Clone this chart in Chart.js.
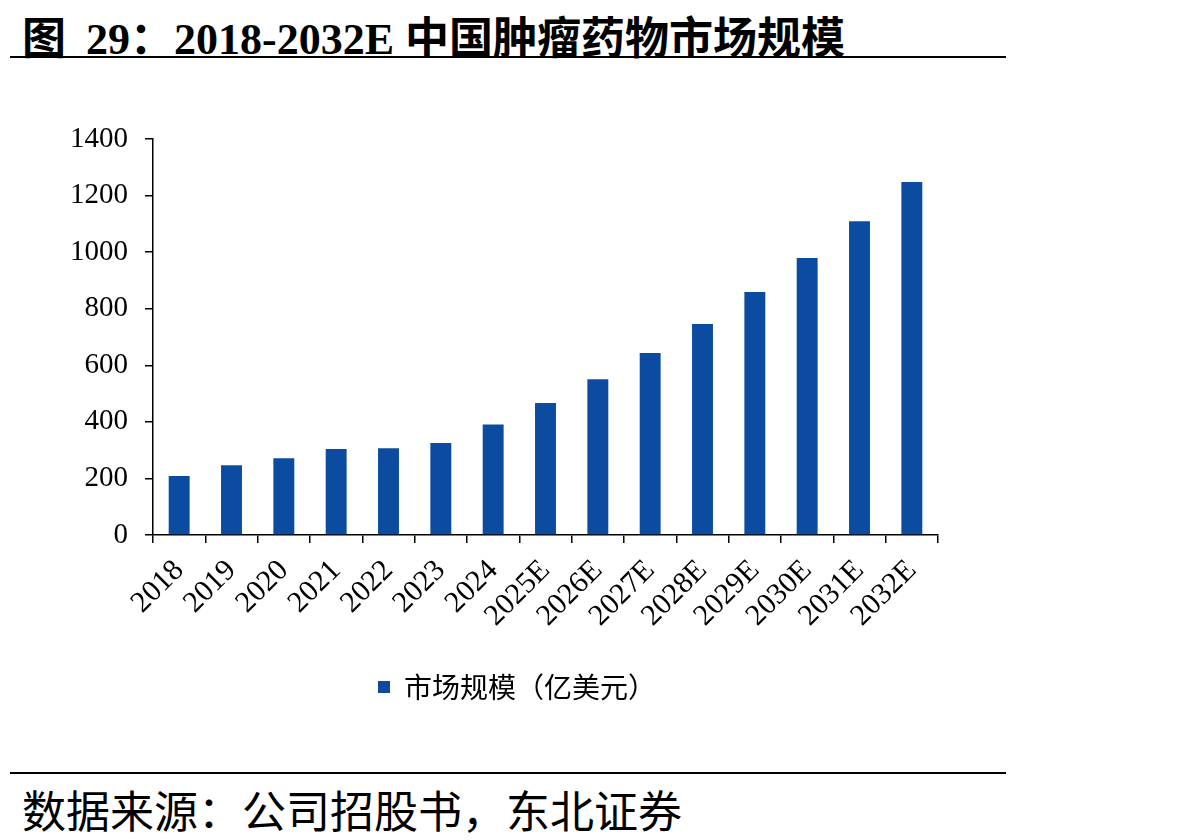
<!DOCTYPE html>
<html>
<head>
<meta charset="utf-8">
<script src="https://cdn.jsdelivr.net/npm/chart.js@4.4.1/dist/chart.umd.min.js"></script>
<style>
  body { margin:0; width:1198px; height:840px; background:#fff; position:relative; overflow:hidden; }
  #title { position:absolute; left:22px; top:3px; font-family:"Liberation Serif","Noto Sans CJK SC",serif; font-weight:bold; font-size:44px; color:#000; white-space:nowrap; }
  #title .gap { display:inline-block; width:20px; }
  .rule { position:absolute; left:10px; width:996px; height:2px; background:#000; }
  #source { position:absolute; left:22px; top:777px; font-family:"Liberation Serif","Noto Sans CJK SC",serif; font-size:44px; color:#000; white-space:nowrap; }
  #wrap { position:absolute; left:0; top:100px; width:1034px; height:620px; }
</style>
</head>
<body>
<div id="title">图<span class="gap"></span>29：2018-2032E 中国肿瘤药物市场规模</div>
<div class="rule" style="top:56px"></div>
<div id="wrap"><canvas id="marketChart" width="1034" height="620"></canvas></div>
<div class="rule" style="top:772px"></div>
<div id="source">数据来源：公司招股书，东北证券</div>
<script>
const years = ['2018','2019','2020','2021','2022','2023','2024','2025E','2026E','2027E','2028E','2029E','2030E','2031E','2032E'];
const marketSize = [209, 247, 271, 304, 307, 325, 391, 467, 551, 643, 746, 859, 979, 1109, 1248];
const yTicks = [0, 200, 400, 600, 800, 1000, 1200, 1400];
const seriesName = '市场规模（亿美元）';

const barColor = '#0C4CA0';

const ctx = document.getElementById('marketChart').getContext('2d');
new Chart(ctx, {
    type: 'bar',
    data: {
        labels: years,
        datasets: [{ label: seriesName, data: marketSize, backgroundColor: barColor, borderWidth: 0, barPercentage: 0.4, categoryPercentage: 1 }]
    },
    options: {
        responsive: false,
        animation: false,
        devicePixelRatio: 1,
        layout: { padding: { top: 39, right: 0, left: 0, bottom: 9 } },
        plugins: {
            legend: {
                position: 'bottom',
                labels: { boxWidth: 12, boxHeight: 12, color: '#000', padding: 10, font: { family: 'Noto Sans CJK SC', size: 28 } }
            },
            tooltip: { enabled: false }
        },
        scales: {
            x: {
                grid: { display: true, drawOnChartArea: false, drawTicks: true, tickLength: 8, color: '#000', lineWidth: 1.5, offset: true },
                border: { color: '#000', width: 1.5 },
                ticks: { color: '#000', font: { family: 'Liberation Serif', size: 30 }, autoSkip: false, maxRotation: 45, minRotation: 45, padding: 10 },
                afterFit: s => { s.height = 128; }
            },
            y: {
                min: yTicks[0],
                max: yTicks[yTicks.length - 1],
                afterBuildTicks: s => { s.ticks = yTicks.map(v => ({ value: v })); },
                grid: { display: true, drawOnChartArea: false, drawTicks: true, tickLength: 8, color: '#000', lineWidth: 1.5 },
                border: { color: '#000', width: 1.5 },
                ticks: { color: '#000', font: { family: 'Liberation Serif', size: 29 }, padding: 17, callback: v => String(v) },
                afterFit: s => { s.width = 153; }
            },
            // empty right-hand axis, only reserves the blank margin right of the plot
            yRight: {
                type: 'linear',
                position: 'right',
                grid: { display: false },
                border: { display: false },
                ticks: { display: false },
                afterFit: s => { s.width = 96; }
            }
        }
    }
});
</script>
</body>
</html>
